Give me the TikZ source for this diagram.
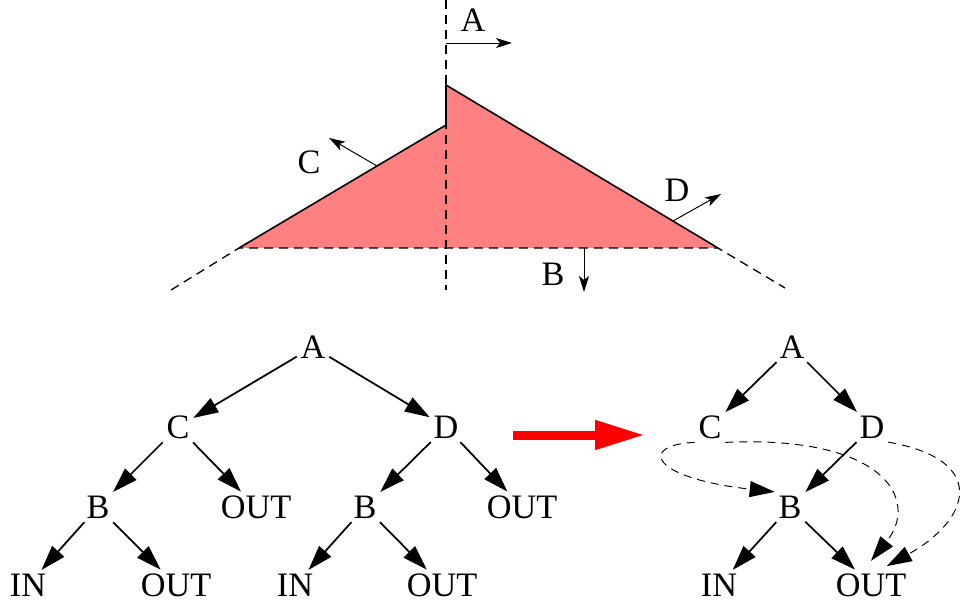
\documentclass[tikz,border=0pt]{standalone}
\usepackage{fontspec}
\setmainfont{Liberation Serif}
\usepackage{tikz}
\usetikzlibrary{
  positioning,
  arrows.meta,
  calc
}
\definecolor{regionfill}{RGB}{255,128,128}
\definecolor{flowred}{RGB}{255,0,0}
\tikzset{
  lbl/.style={
    font=\fontsize{19.5}{21}\selectfont, inner sep=1pt
  },
  treenode/.style={
    font=\fontsize{19.5}{21}\selectfont, inner sep=2pt
  },
  normalarrow/.style={
    -{Stealth[length=0.32cm, width=0.2cm, inset=0.08cm]}, line width=0.55pt
  },
  treearrow/.style={
    -{Triangle[length=0.5cm, width=0.32cm]}, line width=1pt
  },
  jumparrow/.style={
    -{Triangle[length=0.5cm, width=0.32cm]}, line width=0.55pt,
    dash pattern=on 0.16cm off 0.12cm
  },
  cutline/.style={
    line width=0.75pt, dash pattern=on 0.18cm off 0.12cm
  },
  bigarrow/.style={
    -{Triangle[length=1cm, width=0.55cm]}, line width=0.18cm, draw=flowred
  }
}

\begin{document}
\begin{tikzpicture}[x=0.02cm, y=-0.02cm]
    \useasboundingbox (0,0) rectangle (961,606);

    % Region with its cut lines
    \coordinate (peak) at (446,85);
    \coordinate (notch) at (446,125);
    \coordinate (lv) at (239,248);
    \coordinate (rv) at (718,248);
    \fill[regionfill] (peak) -- (rv) -- (lv) -- (notch) -- cycle;
    \draw[line width=0.9pt] (lv) -- (notch) -- (peak) -- (rv);
    \coordinate (vtop) at (446,0);
    \coordinate (vbot) at (446,290);
    \coordinate (lext) at (171,290);
    \coordinate (rext) at (785,288);
    \draw[cutline] (vtop) -- (vbot);
    \draw[cutline] (lext) -- (lv) -- (rv) -- (rext);

    % Normal arrows of the cut lines
    \coordinate (na) at (446,43);
    \coordinate (nc) at (377,166);
    \coordinate (nd) at (673,221);
    \coordinate (nb) at (584,248);
    \draw[normalarrow] (na) -- ++(66,0);
    \draw[normalarrow] (nc) -- ++(-48,-28);
    \draw[normalarrow] (nd) -- ++(48,-27);
    \draw[normalarrow] (nb) -- ++(0,44);
    \node[lbl] (la) at (473,20) {A};
    \node[lbl] (lc) at (309,162) {C};
    \node[lbl] (ld) at (677,190) {D};
    \node[lbl] (lb) at (553,274) {B};

    % Left tree
    \node[treenode] (ta) at (313,347) {A};
    \node[treenode] (tc) at (178,427) {C};
    \node[treenode] (td) at (446,427) {D};
    \node[treenode] (tcb) at (98,507) {B};
    \node[treenode] (tcout) at (256,507) {OUT};
    \node[treenode] (tdb) at (365,507) {B};
    \node[treenode] (tdout) at (522,507) {OUT};
    \node[treenode] (tcbin) at (28,585) {IN};
    \node[treenode] (tcbout) at (176,585) {OUT};
    \node[treenode] (tdbin) at (295,585) {IN};
    \node[treenode] (tdbout) at (442,585) {OUT};

    \draw[treearrow] (ta) -- (tc);
    \draw[treearrow] (ta) -- (td);
    \draw[treearrow] (tc) -- (tcb);
    \draw[treearrow] (tc) -- (tcout);
    \draw[treearrow] (td) -- (tdb);
    \draw[treearrow] (td) -- (tdout);
    \draw[treearrow] (tcb) -- (tcbin);
    \draw[treearrow] (tcb) -- (tcbout);
    \draw[treearrow] (tdb) -- (tdbin);
    \draw[treearrow] (tdb) -- (tdbout);

    % Transformation arrow
    \coordinate (fstart) at (513,435);
    \coordinate (fend) at (645,435);
    \draw[bigarrow] (fstart) -- (fend);

    % Right tree
    \node[treenode] (ra) at (792,347) {A};
    \node[treenode] (rc) at (710,427) {C};
    \node[treenode] (rd) at (872,427) {D};
    \node[treenode] (rb) at (790,507) {B};
    \node[treenode] (rin) at (719,585) {IN};
    \node[treenode] (rout) at (871,585) {OUT};

    \draw[treearrow] (ra) -- (rc);
    \draw[treearrow] (ra) -- (rd);
    \draw[treearrow] (rd) -- (rb);
    \draw[treearrow] (rb) -- (rin);
    \draw[treearrow] (rb) -- (rout);

    % Shortcut edges
    \draw[jumparrow] (rc.south west) .. controls (638,445) and (650,478) .. (rb.north west);
    \draw[jumparrow] (rc.south east) .. controls (885,435) and (920,500) .. ([yshift=5pt]rout.north);
    \draw[jumparrow] (rd.south east) .. controls (990,460) and (970,520) .. ([xshift=9pt,yshift=2pt]rout.north);

  \end{tikzpicture}
\end{document}
